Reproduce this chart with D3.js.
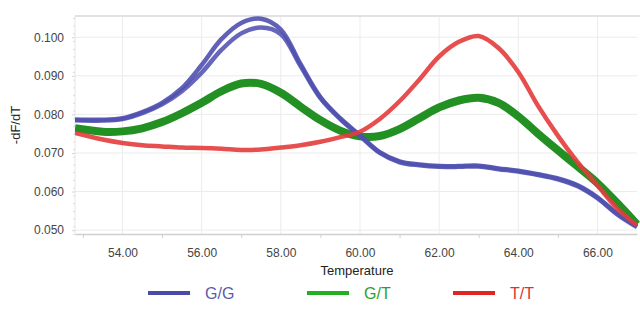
<!DOCTYPE html>
<html>
<head>
<meta charset="utf-8">
<script src="https://cdn.jsdelivr.net/npm/d3@7"></script>
<style>
  body { margin: 0; background: #fff; }
  svg { display: block; font-family: "Liberation Sans", Arial, sans-serif; }
</style>
</head>
<body>
<svg id="chart" width="640" height="329"></svg>
<script>
// melt curve samples
const temps = [52.8, 53.5, 54, 54.5, 55, 55.5, 56, 56.5, 57, 57.5, 58, 58.5, 59, 59.5, 60,
  60.5, 61, 61.5, 62, 62.5, 63, 63.5, 64, 64.5, 65, 65.5, 66, 66.5, 67];

const ggUpper = [0.0787, 0.0786, 0.0790, 0.0806, 0.0830, 0.0868, 0.0928, 0.0995, 0.1037, 0.1048, 0.1020,
  0.0930, 0.0845, 0.0790, 0.0746, 0.0702, 0.0678, 0.0670, 0.0666, 0.0666, 0.0667, 0.0660, 0.0654,
  0.0645, 0.0634, 0.0616, 0.0585, 0.0543, 0.0510];
const ggLower = [0.0785, 0.0784, 0.0788, 0.0803, 0.0826, 0.0860, 0.0908, 0.0967, 0.1010, 0.1025, 0.1008,
  0.0925, 0.0842, 0.0788, 0.0744, 0.0700, 0.0676, 0.0668, 0.0664, 0.0664, 0.0665, 0.0658, 0.0652,
  0.0643, 0.0632, 0.0614, 0.0583, 0.0541, 0.0508];
const gt = [0.0764, 0.0755, 0.0756, 0.0764, 0.0780, 0.0803, 0.0830, 0.0860, 0.0880, 0.0879, 0.0856,
  0.0820, 0.0785, 0.0758, 0.0743, 0.0744, 0.0762, 0.0790, 0.0818, 0.0836, 0.0843, 0.0830, 0.0795,
  0.0750, 0.0707, 0.0665, 0.0622, 0.0570, 0.0515];
const tt = [0.0752, 0.0735, 0.0726, 0.0720, 0.0717, 0.0714, 0.0713, 0.0711, 0.0708, 0.0709, 0.0714,
  0.0720, 0.0729, 0.0741, 0.0755, 0.0788, 0.0834, 0.0890, 0.0950, 0.0988, 0.1003, 0.0972, 0.0910,
  0.0822, 0.0745, 0.0676, 0.0616, 0.0556, 0.0512];

const yTicks = [0.05, 0.06, 0.07, 0.08, 0.09, 0.10];
const xTicks = [54, 56, 58, 60, 62, 64, 66];
const legendNames = ["G/G", "G/T", "T/T"];

const margin = { top: 16, right: 3, bottom: 95, left: 75 };
const width = 640 - margin.left - margin.right;
const height = 329 - margin.top - margin.bottom;

const svg = d3.select("#chart");
const g = svg.append("g").attr("transform", `translate(${margin.left},${margin.top})`);

const x = d3.scaleLinear().domain([52.8, 67.0]).range([0, width]);
const y = d3.scaleLinear().domain([0.0490, 0.1055]).range([height, 0]);

// grid
g.append("g").selectAll("line").data(yTicks).enter().append("line")
  .attr("x1", 0).attr("x2", width)
  .attr("y1", d => y(d)).attr("y2", d => y(d))
  .attr("stroke", "#ececec").attr("stroke-width", 1);
g.append("g").selectAll("line").data(xTicks).enter().append("line")
  .attr("y1", 0).attr("y2", height)
  .attr("x1", d => x(d)).attr("x2", d => x(d))
  .attr("stroke", "#ececec").attr("stroke-width", 1);

// frame
g.append("line").attr("x1", 0).attr("x2", width + margin.right).attr("y1", 0).attr("y2", 0)
  .attr("stroke", "#e2e2e2").attr("stroke-width", 2);
g.append("line").attr("x1", 0).attr("x2", 0).attr("y1", 0).attr("y2", height)
  .attr("stroke", "#e6e6e6");

// axes
const xAxis = g.append("g").attr("transform", `translate(0,${height})`)
  .call(d3.axisBottom(x).tickValues(xTicks).tickFormat(d3.format(".2f")).tickSize(0).tickPadding(14));
xAxis.select(".domain").attr("stroke", "#cfcfcf").attr("stroke-width", 1.5);
xAxis.selectAll("text").attr("font-size", 12).attr("fill", "#444");

g.append("g").attr("transform", `translate(0,${height})`)
  .call(d3.axisBottom(x).tickValues(d3.range(53, 67, 2)).tickFormat("").tickSize(4))
  .call(a => a.select(".domain").remove())
  .selectAll("line").attr("stroke", "#cfcfcf");

const yAxis = g.append("g")
  .call(d3.axisLeft(y).tickValues(yTicks).tickFormat(d3.format(".3f")).tickSize(3).tickPadding(8));
yAxis.select(".domain").remove();
yAxis.selectAll("line").attr("stroke", "#d6d6d6");
yAxis.selectAll("text").attr("font-size", 12).attr("fill", "#444");

g.append("g")
  .call(d3.axisLeft(y).tickValues(d3.range(0.049, 0.1055, 0.002)).tickFormat("").tickSize(2))
  .call(a => a.select(".domain").remove())
  .selectAll("line").attr("stroke", "#dcdcdc");

// curves
g.append("clipPath").attr("id", "clip").append("rect")
  .attr("x", 0).attr("y", -2).attr("width", width + margin.right).attr("height", height + 2);

const line = vals => d3.line()
  .x((d, i) => x(temps[i]))
  .y(d => y(d))
  .curve(d3.curveCatmullRom.alpha(0.5))(vals);

const curves = g.append("g").attr("clip-path", "url(#clip)");
const series = [
  { v: gt, color: "#0b840b", w: 8 },
  { v: ggLower, color: "#5555b3", w: 4.5 },
  { v: ggUpper, color: "#5050b0", w: 4.5 },
  { v: tt, color: "#e43c3c", w: 4.5 }
];
curves.selectAll("path").data(series).enter().append("path")
  .attr("d", d => line(d.v))
  .attr("fill", "none")
  .attr("stroke", d => d.color)
  .attr("stroke-width", d => d.w)
  .attr("stroke-opacity", 0.9)
  .attr("stroke-linejoin", "round");

// axis titles
svg.append("text")
  .attr("x", 357).attr("y", 275)
  .attr("text-anchor", "middle").attr("font-size", 13).attr("fill", "#222")
  .text("Temperature");
svg.append("text")
  .attr("transform", "translate(20,125) rotate(-90)")
  .attr("text-anchor", "middle").attr("font-size", 13).attr("fill", "#222")
  .text("-dF/dT");

// legend
const legendX = [148, 307, 453];
const legendLine = ["#4a4aaa", "#22b022", "#e22424"];
const legendText = ["#5a5aaa", "#2aa02a", "#e03030"];
const legend = svg.append("g").selectAll("g").data(legendNames).enter().append("g")
  .attr("transform", (d, i) => `translate(${legendX[i]},293)`);
legend.append("line").attr("x1", 0).attr("x2", 42).attr("y1", 0).attr("y2", 0)
  .attr("stroke", (d, i) => legendLine[i]).attr("stroke-width", 4);
legend.append("text").attr("x", 57).attr("y", 6)
  .attr("font-size", 16).attr("fill", (d, i) => legendText[i])
  .text(d => d);
</script>
</body>
</html>
